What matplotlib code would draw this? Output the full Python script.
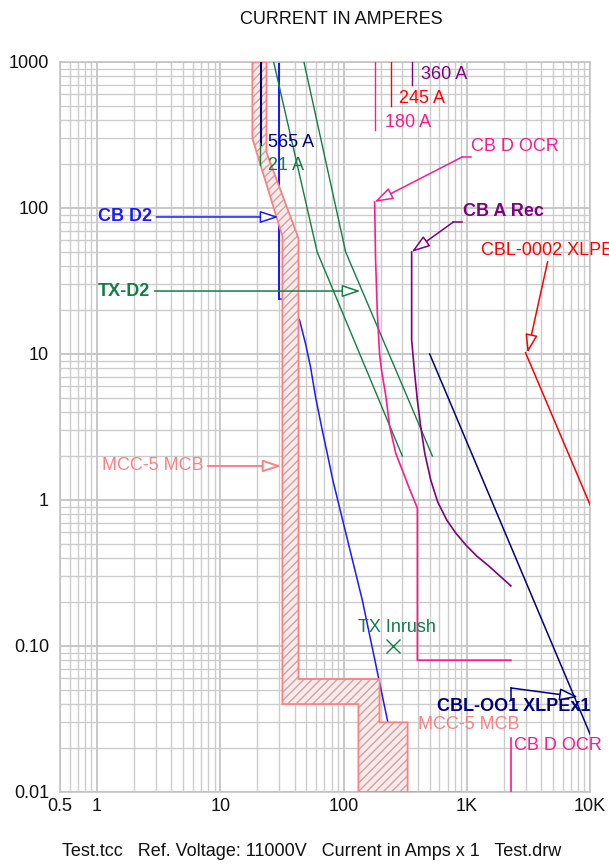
import matplotlib
matplotlib.use('Agg')
import matplotlib.pyplot as plt
from matplotlib.ticker import LogLocator, FixedLocator, FixedFormatter, NullFormatter
from matplotlib.patches import Polygon

plt.rcParams['font.family'] = ['Liberation Sans', 'DejaVu Sans']
plt.rcParams['hatch.linewidth'] = 1.0

# ---------------- data ----------------
x_ticks = [0.5, 1, 10, 100, 1000, 10000]
x_ticklabels = ['0.5', '1', '10', '100', '1K', '10K']
y_ticks = [0.01, 0.1, 1, 10, 100, 1000]
y_ticklabels = ['0.01', '0.10', '1', '10', '100', '1000']

# MCC-5 MCB tolerance band (outline)
mcb_x = [18.2, 18.2, 31.9, 31.9, 132, 132, 331, 331, 196, 196, 43.1, 43.1, 23.7, 23.7]
mcb_y = [1000, 300, 64, 0.040, 0.040, 0.01, 0.01, 0.030, 0.030, 0.0594, 0.0594, 62, 240, 1000]

# CB D2
cbd2_x = [30, 30, 32.1, 43.9, 49.1, 53.9, 59.2, 67.1, 73.7, 81.8, 142, 229, 229, 893]
cbd2_y = [1000, 23.8, 23.8, 17.1, 11.8, 8.19, 5.10, 3.02, 2.09, 1.37, 0.206, 0.030, 0.01, 0.01]

# TX-D2 damage curves
tx1_x = [27.1, 61.1, 300]
tx1_y = [1000, 50, 2.0]
tx2_x = [47.7, 104, 526]
tx2_y = [1000, 50, 2.0]

# CB D OCR
ocr_x = [178.7, 182, 188, 196, 204, 220, 237, 265, 300, 338, 397, 397, 2280]
ocr_y = [110, 44, 19.1, 10.0, 7.6, 5.2, 3.18, 2.09, 1.6, 1.23, 0.88, 0.08, 0.08]
ocr_inst_x = [2280, 2280]
ocr_inst_y = [0.0234, 0.01]

# CB A Rec
rec_x = [357, 357, 373, 397, 423, 456, 510, 581, 688, 814, 982, 1205, 1510, 1854, 2280]
rec_y = [50, 12.5, 8.19, 4.84, 3.18, 2.09, 1.37, 0.969, 0.729, 0.594, 0.492, 0.413, 0.353,
         0.302, 0.258]

# Cables
cbl1_x = [500, 10000]
cbl1_y = [10, 0.025]
cbl2_x = [3000, 10000]
cbl2_y = [10.2, 0.93]

# Ampacity / FLA / pickup marks
fla_navy_x = [21.2, 21.2]
fla_navy_y = [1000, 270]
fla_green_x = [21.0, 21.0]
fla_green_y = [279, 197]
pick_pink_x = [178.7, 178.7]
pick_pink_y = [1000, 342]
pick_red_x = [241, 241]
pick_red_y = [1000, 500]
pick_purple_x = [357, 357]
pick_purple_y = [1000, 695]

inrush_x = [250]
inrush_y = [0.1]

# ---------------- colours ----------------
SALMON = '#ff8080'
BLUE = '#1a1aff'
NAVY = '#000080'
GREEN = '#0f7f45'
PINK = '#ff1a8c'
RED = '#ff0000'
PURPLE = '#800080'
LW = 1.0

fig = plt.figure(figsize=(6.09, 8.64), dpi=100)
ax = fig.add_axes([60/609, 72/864, 530/609, 730/864])
ax.set_xscale('log')
ax.set_yscale('log')
ax.set_xlim(0.5, 10000)
ax.set_ylim(0.01, 1000)

ax.xaxis.set_major_locator(FixedLocator(x_ticks))
ax.xaxis.set_major_formatter(FixedFormatter(x_ticklabels))
ax.yaxis.set_major_locator(FixedLocator(y_ticks))
ax.yaxis.set_major_formatter(FixedFormatter(y_ticklabels))
ax.xaxis.set_minor_locator(LogLocator(base=10, subs=range(2, 10), numticks=50))
ax.yaxis.set_minor_locator(LogLocator(base=10, subs=range(2, 10), numticks=50))
ax.xaxis.set_minor_formatter(NullFormatter())
ax.yaxis.set_minor_formatter(NullFormatter())
ax.tick_params(which='both', length=0, labelsize=13, colors='#111111')
ax.tick_params(axis='y', pad=8)
ax.tick_params(axis='x', pad=4)
ax.grid(which='major', color='#c4c4c4', lw=1.3)
ax.grid(which='minor', color='#cccccc', lw=1.0)
ax.set_axisbelow(True)
for s in ax.spines.values():
    s.set_color('#c4c4c4')
    s.set_linewidth(1.2)

# curves
ax.plot(cbd2_x, cbd2_y, color=BLUE, lw=1.1, zorder=2)
ax.plot(cbd2_x[:2], cbd2_y[:2], color=BLUE, lw=1.4, zorder=2)

band_pts = list(zip(mcb_x, mcb_y))
ax.add_patch(Polygon(band_pts, closed=True, facecolor='#fbe9e9', edgecolor='#c9a6a6',
                     hatch='////', lw=0, zorder=3))
ax.add_patch(Polygon(band_pts, closed=True, facecolor='none', edgecolor=SALMON,
                     lw=1.3, zorder=3.1))

ax.plot(fla_navy_x, fla_navy_y, color=NAVY, lw=1.5, zorder=4)
ax.plot(fla_green_x, fla_green_y, color=GREEN, lw=LW, zorder=4)

ax.plot(tx1_x, tx1_y, color=GREEN, lw=LW, zorder=4)
ax.plot(tx2_x, tx2_y, color=GREEN, lw=LW, zorder=4)

ax.plot(ocr_x, ocr_y, color=PINK, lw=1.2, zorder=4)
ax.plot(ocr_inst_x, ocr_inst_y, color=PINK, lw=1.2, zorder=4)
ax.plot(rec_x, rec_y, color=PURPLE, lw=1.2, zorder=4)
ax.plot(cbl1_x, cbl1_y, color=NAVY, lw=1.1, zorder=4)
ax.plot(cbl2_x, cbl2_y, color=RED, lw=1.1, zorder=4)

ax.plot(pick_pink_x, pick_pink_y, color=PINK, lw=LW, zorder=4)
ax.plot(pick_red_x, pick_red_y, color=RED, lw=LW, zorder=4)
ax.plot(pick_purple_x, pick_purple_y, color=PURPLE, lw=LW, zorder=4)

ax.plot(inrush_x, inrush_y, marker='x', ms=10, mew=1.0, color=GREEN, ls='none', zorder=4)

FS = 13
HEAD = '-|>,head_length=0.75,head_width=0.25'


def arrow(xy, xytext, color, lw=1.1):
    ax.annotate('', xy=xy, xytext=xytext,
                arrowprops=dict(arrowstyle=HEAD, fc='white', ec=color, lw=lw,
                                mutation_scale=15, shrinkA=0, shrinkB=0), zorder=6)


def hlabel(text, xy, xytext, color, weight='normal', lw=1.1):
    ax.annotate(text, xy=xy, xytext=xytext, color=color, fontsize=FS, fontweight=weight,
                ha='left', va='center', zorder=6,
                arrowprops=dict(arrowstyle=HEAD, fc='white', ec=color, lw=lw,
                                mutation_scale=15, shrinkA=1, shrinkB=0))


hlabel('CB D2', (29.6, 86.8), (1.02, 86.8), BLUE, 'bold')
hlabel('TX-D2', (137, 27.0), (1.02, 27.0), GREEN, 'bold')
hlabel('MCC-5 MCB', (31.3, 1.71), (1.098, 1.71), SALMON, 'normal', 1.4)

# CB D OCR (top)
ax.text(1078, 262, 'CB D OCR', color=PINK, fontsize=FS, ha='left', va='center', zorder=6)
ax.plot([1078, 923], [224, 224], color=PINK, lw=1.1, zorder=6)
arrow((178.7, 110), (923, 224), PINK)

# CB A Rec
ax.text(927, 93.9, 'CB A Rec', color=PURPLE, fontsize=FS, fontweight='bold', ha='left',
        va='center', zorder=6)
ax.plot([923, 779], [80.2, 80.2], color=PURPLE, lw=1.1, zorder=6)
arrow((357, 50), (779, 80.2), PURPLE)

# CBL-0002 XLPE
ax.text(1300, 50.8, 'CBL-0002 XLPE', color=RED, fontsize=FS, ha='left', va='center',
        zorder=6, clip_on=False)
arrow((3110, 10.2), (4530, 42.9), RED)

# CBL-OO1 XLPEx1
ax.text(578, 0.0384, 'CBL-OO1 XLPEx1', color=NAVY, fontsize=FS, fontweight='bold',
        ha='left', va='center', zorder=6)
ax.plot([2280, 2280], [0.0427, 0.0516], color=NAVY, lw=1.1, zorder=6)
arrow((7980, 0.0448), (2280, 0.0516), NAVY)

# small labels
ax.text(132, 0.133, 'TX Inrush', color=GREEN, fontsize=FS, ha='left', va='center', zorder=6)
ax.text(400, 0.0288, 'MCC-5 MCB', color=SALMON, fontsize=FS, ha='left', va='center', zorder=6)
ax.text(2410, 0.0207, 'CB D OCR', color=PINK, fontsize=FS, ha='left', va='center', zorder=6)
ax.text(24.6, 279, '565 A', color=NAVY, fontsize=FS, ha='left', va='center', zorder=6)
ax.text(24.6, 197, '21 A', color=GREEN, fontsize=FS, ha='left', va='center', zorder=6)
ax.text(423, 815, '360 A', color=PURPLE, fontsize=FS, ha='left', va='center', zorder=6)
ax.text(280, 558, '245 A', color=RED, fontsize=FS, ha='left', va='center', zorder=6)
ax.text(215, 388, '180 A', color=PINK, fontsize=FS, ha='left', va='center', zorder=6)

fig.text(341/609, 1 - 20/864, 'CURRENT IN AMPERES', ha='center', va='center',
         fontsize=FS, color='#111111')
fig.text(62/609, 1 - 852/864,
         'Test.tcc   Ref. Voltage: 11000V   Current in Amps x 1   Test.drw',
         ha='left', va='center', fontsize=FS, color='#111111')

fig.savefig('out.png', dpi=100)
